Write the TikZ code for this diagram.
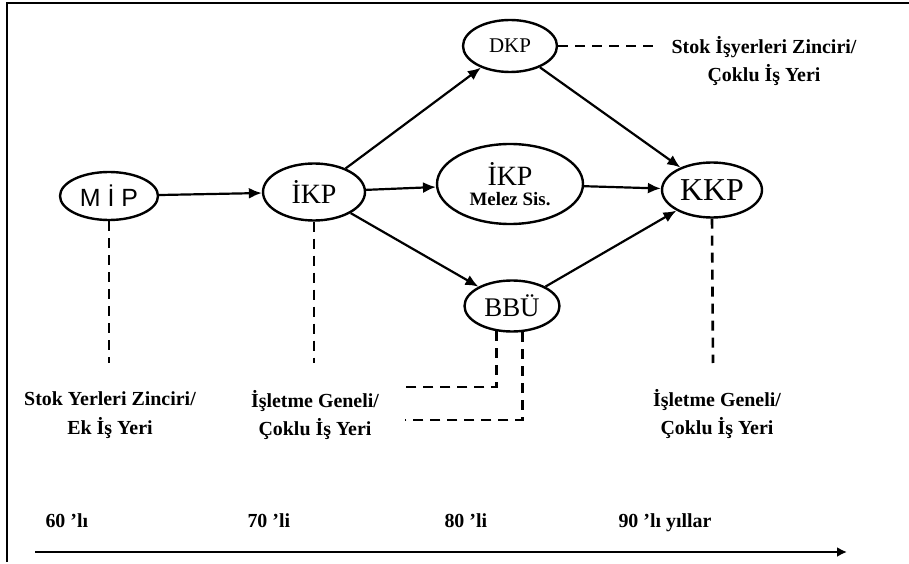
\documentclass[tikz,border=0pt]{standalone}
\usepackage{fontspec}
\setmainfont{Liberation Serif}
\newfontfamily\sansfam{Liberation Sans}
\usetikzlibrary{arrows.meta,shapes.geometric}

\begin{document}
\begin{tikzpicture}[x=1bp,y=-1bp,
  stage/.style={draw, ellipse, line width=2.4bp, inner sep=0pt},
  flow/.style={line width=2.2bp, -{Latex[length=13bp,width=11bp]}},
  dashline/.style={line width=2.6bp, dash pattern=on 10bp off 7bp},
  lbl/.style={align=center, font=\fontsize{20}{29}\selectfont\bfseries},
  yr/.style={anchor=base west, font=\fontsize{20}{23}\selectfont\bfseries}]
\useasboundingbox (0,0) rectangle (909,564);

% frame (top and left edges)
\draw[line width=2.8bp] (7,562) -- (7,3) -- (909,3);

% planning stages
\node[stage, minimum width=98bp, minimum height=48bp,
      font=\sansfam\fontsize{25}{25}\selectfont] (mip) at (109,196) {M İ P};
\node[stage, minimum width=102bp, minimum height=57bp,
      font=\fontsize{28}{28}\selectfont] (ikp) at (314,192) {İKP};
\node[stage, minimum width=94bp, minimum height=52bp,
      font=\fontsize{21}{21}\selectfont] (dkp) at (510,46) {DKP};
\node[stage, minimum width=146bp, minimum height=80bp, align=center,
      font=\fontsize{19}{20}\selectfont] (melez) at (510,184)
      {{\fontsize{28}{20}\selectfont İKP}\\\bfseries Melez Sis.};
\node[stage, minimum width=100bp, minimum height=55bp,
      font=\fontsize{32}{32}\selectfont] (kkp) at (712,190) {KKP};
\node[stage, minimum width=95bp, minimum height=51bp,
      font=\fontsize{27}{27}\selectfont] (bbu) at (512,306) {BBÜ};

% transitions
\draw[flow] (mip) -- (ikp);
\draw[flow] (ikp) -- (melez);
\draw[flow] (ikp) -- (dkp);
\draw[flow] (ikp) -- (bbu);
\draw[flow] (dkp) -- (kkp);
\draw[flow] (melez) -- (kkp);
\draw[flow] (bbu) -- (kkp);

% workplace descriptions
\node[lbl] (lmip) at (110,415) {Stok Yerleri Zinciri/\\Ek İş Yeri};
\node[lbl] (likp) at (315,415) {İşletme Geneli/\\Çoklu İş Yeri};
\node[lbl] (lkkp) at (717,414) {İşletme Geneli/\\Çoklu İş Yeri};
\node[lbl] (ldkp) at (764,61) {Stok İşyerleri Zinciri/\\Çoklu İş Yeri};

\coordinate (emip) at (109,363);
\coordinate (eikp) at (314,363);
\coordinate (ekkp) at (713,363);
\coordinate (edkp) at (660,46);
\coordinate (b1) at (405,387);
\coordinate (b2) at (405,420);

\draw[dashline] (mip.south) -- (emip);
\draw[dashline] (ikp.south) -- (eikp);
\draw[dashline] (kkp.south) -- (ekkp);
\draw[dashline] (dkp.east) -- (edkp);
\draw[dashline] (bbu.-121) -- (bbu.-121 |- b1) -- (b1);
\draw[dashline] (bbu.-68) -- (bbu.-68 |- b2) -- (b2);

% time axis
\coordinate (t0) at (35,552);
\coordinate (t1) at (847,552);
\draw[line width=2.4bp, -{Latex[length=10bp,width=10bp]}] (t0) -- (t1);
\node[yr] (y60) at (42,527) {60 'lı};
\node[yr] (y70) at (244,527) {70 'li};
\node[yr] (y80) at (441,527) {80 'li};
\node[yr] (y90) at (615,527) {90 'lı yıllar};
\end{tikzpicture}
\end{document}
